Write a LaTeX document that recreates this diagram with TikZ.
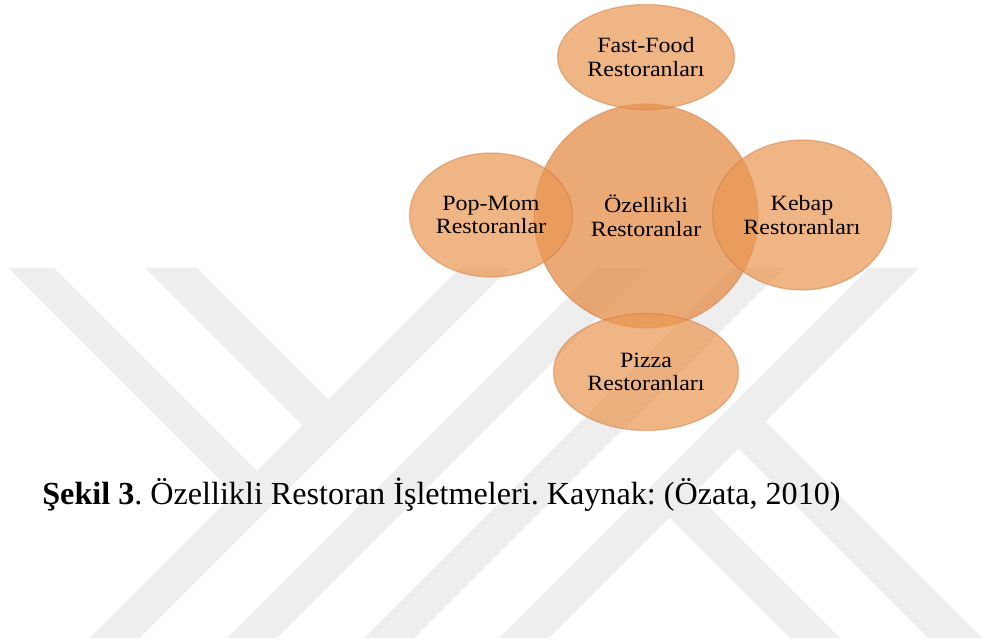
\documentclass[tikz,border=0pt]{standalone}
\usepackage{fontspec}
\setmainfont{Liberation Serif}
\newfontfamily\bubblefont[FakeStretch=1.1]{Liberation Serif}
\usetikzlibrary{shapes.geometric}
\definecolor{peach}{RGB}{228,140,72}
\definecolor{apricot}{RGB}{234,152,84}
\definecolor{rim}{RGB}{205,118,58}
\definecolor{wm}{RGB}{238,238,238}
\frenchspacing

\begin{document}
\begin{tikzpicture}[x=0.02cm, y=-0.02cm,
  bubble/.style={ellipse, fill=peach, fill opacity=0.75, draw=rim, draw opacity=0.45,
    line width=0.7pt, text opacity=1, align=center, inner sep=0pt,
    font=\bubblefont\fontsize{12.4}{13.4}\selectfont},
  sat/.style={bubble, fill=apricot, fill opacity=0.72}]
\useasboundingbox (0,0) rectangle (984,644);

\begin{scope}
\clip (0,269) rectangle (984,638);
\foreach \c in {753,890,1027,1162}
  \fill[wm] (\c-225,200) -- (\c-175,200) -- (\c-675,700) -- (\c-725,700) -- cycle;
\fill[wm] (-14,200) -- (257,471) -- (234,494) -- (-60,200) -- cycle;
\fill[wm] (129,200) -- (328.5,399.5) -- (302.5,425.5) -- (77,200) -- cycle;
\fill[wm] (765,421) -- (1044,700) -- (990,700) -- (738,448) -- cycle;
\fill[wm] (694,492) -- (902,700) -- (852,700) -- (669,517) -- cycle;
\end{scope}

\node[bubble, circle, minimum size=4.48cm] (oz) at (646,216) {Özellikli\\Restoranlar};
\node[sat, minimum width=3.54cm, minimum height=2.1cm] (ff) at (646,57) {Fast-Food\\Restoranları};
\node[sat, minimum width=3.26cm, minimum height=2.48cm] (pm) at (491,215) {Pop-Mom\\Restoranlar};
\node[sat, minimum width=3.58cm, minimum height=3.0cm] (kb) at (802,215) {Kebap\\Restoranları};
\node[sat, minimum width=3.7cm, minimum height=2.34cm] (pz) at (646,372) {Pizza\\Restoranları};

\node[anchor=base west, inner sep=0pt, font=\fontsize{18.3}{20}\selectfont] (cap) at (42,505)
  {\textbf{Şekil 3}. Özellikli Restoran İşletmeleri. Kaynak: (Özata, 2010)};
\end{tikzpicture}
\end{document}
